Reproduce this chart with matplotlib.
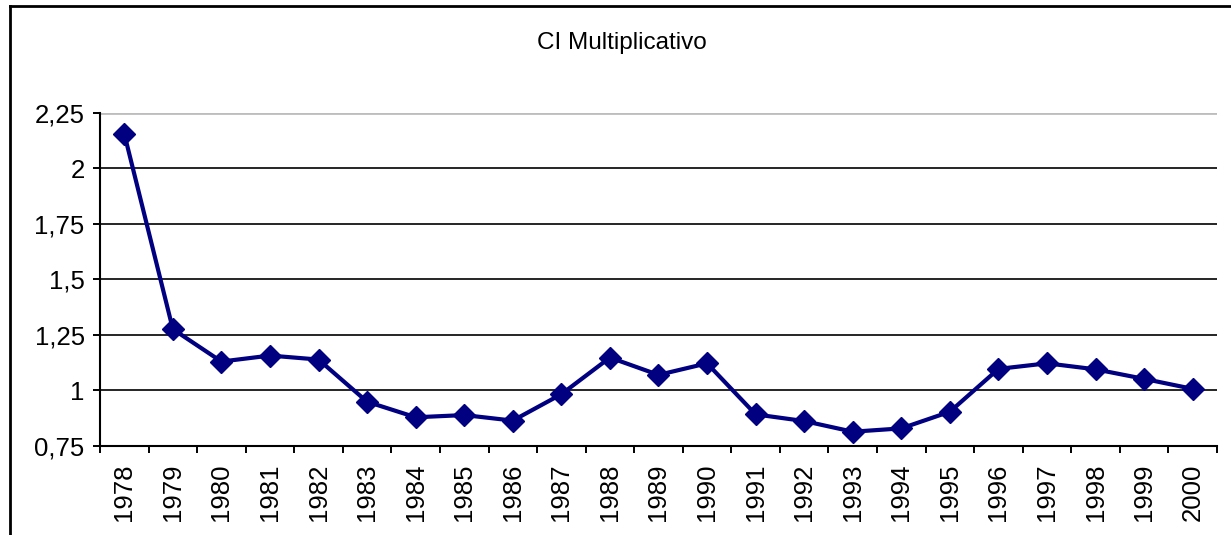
import matplotlib
matplotlib.use("Agg")
import matplotlib.pyplot as plt
from matplotlib.lines import Line2D
import numpy as np

years = [str(y) for y in range(1978, 2001)]
values = [2.155, 1.275, 1.129, 1.156, 1.138, 0.948, 0.878, 0.888, 0.863, 0.982,
          1.147, 1.069, 1.121, 0.891, 0.861, 0.813, 0.828, 0.903, 1.096, 1.121,
          1.094, 1.051, 1.006]
ytick_values = [0.75, 1.0, 1.25, 1.5, 1.75, 2.0, 2.25]
ytick_labels = ["0,75", "1", "1,25", "1,5", "1,75", "2", "2,25"]
title = "CI Multiplicativo"

plt.rcParams['font.family'] = ['Liberation Sans', 'DejaVu Sans']
FS = 18.5

W, H = 1231, 535
fig = plt.figure(figsize=(W / 100, H / 100), dpi=100)
fig.patch.set_facecolor('white')

left, right, top, bottom = 100, 1217, 112.7, 445.7
ax = fig.add_axes([left / W, 1 - bottom / H, (right - left) / W, (bottom - top) / H])

x = np.arange(len(years))
ax.set_xlim(-0.5, len(years) - 0.5)
ax.set_ylim(0.75, 2.25)

# gridlines
for v in ytick_values[1:-1]:
    ax.axhline(v, color='black', lw=1.2, zorder=1)
ax.axhline(2.25, color='#bdbdbd', lw=2.0, zorder=1)

ax.plot(x, values, color='#000080', lw=3.0, marker='D', markersize=11,
        markerfacecolor='#000080', markeredgecolor='#000080', zorder=3, clip_on=False)

for s in ['top', 'right']:
    ax.spines[s].set_visible(False)
ax.spines['left'].set_linewidth(1.5)
ax.spines['bottom'].set_linewidth(1.5)

ax.set_yticks(ytick_values)
ax.set_yticklabels(ytick_labels, fontsize=FS)
ax.tick_params(axis='y', direction='out', length=5, width=1.4, pad=6)

ax.set_xticks(x)
ax.set_xticklabels(years, rotation=90, fontsize=FS)
ax.tick_params(axis='x', which='major', length=0, pad=13)
ax.set_xticks(np.arange(-0.5, len(years) + 0.5, 1.0), minor=True)
ax.tick_params(axis='x', which='minor', direction='out', length=5, width=1.4)

fig.text(622 / W, 1 - 43 / H, title, ha='center', va='center', fontsize=17.5)

# outer chart border (left and top visible)
fig.add_artist(Line2D([9.5 / W, 9.5 / W], [0, 1 - 6 / H], transform=fig.transFigure,
                      color='black', lw=2.0))
fig.add_artist(Line2D([9.5 / W, 1], [1 - 6 / H, 1 - 6 / H], transform=fig.transFigure,
                      color='black', lw=2.0))

fig.savefig("out.png", dpi=100, facecolor='white')
